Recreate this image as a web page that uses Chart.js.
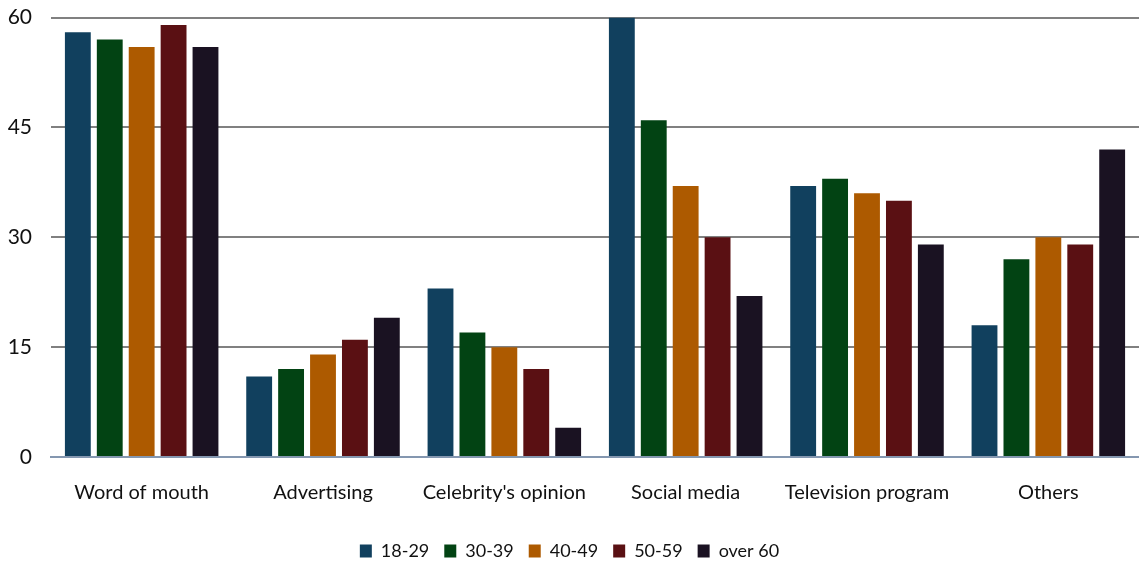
<!DOCTYPE html>
<html><head><meta charset="utf-8">
<script src="https://cdn.jsdelivr.net/npm/chart.js@4"></script>
<style>html,body{margin:0;padding:0;background:#fff;overflow:hidden}#o{width:1139px;height:570px;overflow:hidden;position:relative}#w{position:absolute;left:0;top:-14px;width:1139px;height:584px}</style>
</head><body><div id="o"><div id="w"><canvas id="c"></canvas></div></div>
<script>
const categories = ["Word of mouth","Advertising","Celebrity's opinion","Social media","Television program","Others"];
const ageGroups = ["18-29","30-39","40-49","50-59","over 60"];
const s18_29 = [58,11,23,60,37,18];
const s30_39 = [57,12,17,46,38,27];
const s40_49 = [56,14,15,37,36,30];
const s50_59 = [59,16,12,30,35,29];
const sOver60 = [56,19,4,22,29,42];
const yTicks = [0,15,30,45,60];
const colors = ["#11405E","#024313","#AD5A00","#5A1013","#1A1222"];
const series = [s18_29,s30_39,s40_49,s50_59,sOver60];
const font = "Lato, 'Open Sans', sans-serif";
new Chart(document.getElementById('c'), {
  type: 'bar',
  data: {
    labels: categories,
    datasets: series.map((d,i)=>({label: ageGroups[i], data: d, backgroundColor: colors[i], borderWidth: 0}))
  },
  options: {
    responsive: true, maintainAspectRatio: false, animation: false,
    layout: {padding: {top: 0, right: 0, left: 0, bottom: 0}},
    datasets: {bar: {categoryPercentage: 0.88, barPercentage: 0.81}},
    scales: {
      x: {
        afterFit: ax => { ax.height = 70; },
        grid: {display: false, drawTicks: false},
        border: {display: true, color: '#8497B0', width: 2},
        ticks: {color: '#111', font: {family: font, size: 20}, padding: 24}
      },
      y: {
        min: 0, max: 60,
        afterFit: ax => { ax.width = 51; },
        afterBuildTicks: ax => { ax.ticks = yTicks.map(v=>({value: v})); },
        grid: {color: '#808080', lineWidth: 2, drawTicks: false},
        border: {display: false},
        ticks: {color: '#111', font: {family: font, size: 21}, padding: 19}
      }
    },
    plugins: {
      legend: {
        position: 'bottom',
        labels: {color: '#111', font: {family: font, size: 18}, boxWidth: 12, boxHeight: 13, padding: 15}
      },
      tooltip: {enabled: false}
    }
  }
});
</script></body></html>
